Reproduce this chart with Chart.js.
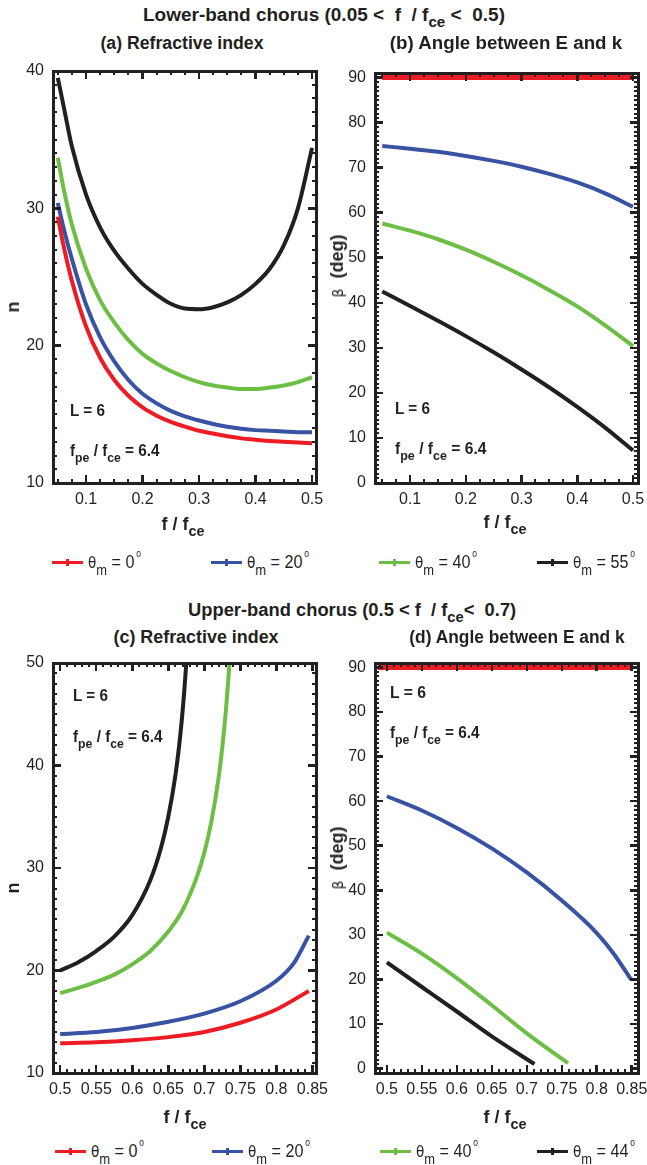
<!DOCTYPE html>
<html>
<head>
<meta charset="utf-8">
<script src="https://cdn.jsdelivr.net/npm/chart.js@4.4.1/dist/chart.umd.min.js"></script>
<style>
  body { margin: 0; background: #fff; }
  #fig { position: relative; width: 647px; height: 1165px; overflow: hidden;
         font-family: 'Liberation Sans', Arial, sans-serif; color: #231f20; }
  canvas { position: absolute; }
  .mk { position: absolute; background: #231f20; }
  .box { position: absolute; border: 3px solid #231f20; box-sizing: border-box; }
  .t { position: absolute; white-space: nowrap; line-height: 1; }
  .c { transform: translate(-50%, -50%); }
  .l { transform: translateY(-50%); transform-origin: left center; }
  .b { font-weight: bold; }
  .big { font-size: 18px; }
  .ann { font-size: 17px; font-weight: bold; }
  sub { font-size: 0.8em; position: relative; top: 0.45em; vertical-align: baseline; }
  .rot { transform: translate(-50%, -50%) rotate(-90deg); }
  .sym { font-family: 'DejaVu Sans', sans-serif; font-weight: normal; font-size: 14px; }
  .leg { position: absolute; display: flex; align-items: center; transform: translateY(-50%); font-size: 19px; }
  .leg .lt { display: inline-block; transform: scaleX(0.85); transform-origin: left center; }
  .leg .sym { font-size: 16px; }
  .sw { position: relative; display: inline-block; width: 31px; height: 3px; margin-right: 5px; }
  .sw::after { content: ''; position: absolute; left: 14px; top: -2px; width: 3px; height: 7px; background: inherit; }
  .deg { font-size: 10px; position: relative; top: -1.1em; margin-left: 2px; }
</style>
</head>
<body>
<div id="fig">
  <canvas id="chA" width="330" height="480" style="left:0;top:60px"></canvas>
  <canvas id="chB" width="327" height="480" style="left:320px;top:60px"></canvas>
  <canvas id="chC" width="330" height="480" style="left:0;top:650px"></canvas>
  <canvas id="chD" width="327" height="480" style="left:320px;top:650px"></canvas>

  <div class="t b big l" data-w="362" style="left:143px;top:15px">Lower-band chorus (0.05 &lt;&nbsp; f &nbsp;/ f<sub>ce</sub> &lt;&nbsp; 0.5)</div>
  <div class="t b big c" data-w="163" style="left:182px;top:43px">(a) Refractive index</div>
  <div class="t b big c" data-w="232" style="left:506px;top:43px">(b) Angle between E and k</div>

  <div class="t b big l" data-w="328" style="left:188px;top:610px">Upper-band chorus (0.5 &lt; f &nbsp;/ f<sub>ce</sub>&lt;&nbsp; 0.7)</div>
  <div class="t b big c" data-w="165" style="left:196px;top:637px">(c) Refractive index</div>
  <div class="t b big c" data-w="215" style="left:517px;top:637px">(d) Angle between E and k</div>

  <!-- axis titles -->
  <div class="t b big rot" style="left:13px;top:307px">n</div>
  <div class="t b big rot" style="left:13px;top:888px">n</div>
  <div class="t b big rot" style="left:337px;top:266px"><span class="sym">β</span>&nbsp; (deg)</div>
  <div class="t b big rot" style="left:337px;top:858px"><span class="sym">β</span>&nbsp; (deg)</div>
  <div class="t b big c" style="left:183px;top:524px">f / f<sub>ce</sub></div>
  <div class="t b big c" style="left:505px;top:522px">f / f<sub>ce</sub></div>
  <div class="t b big c" style="left:185px;top:1117px">f / f<sub>ce</sub></div>
  <div class="t b big c" style="left:505px;top:1117px">f / f<sub>ce</sub></div>

  <!-- plasma parameters -->
  <div class="t ann l" data-w="35" style="left:70px;top:410px">L = 6</div>
  <div class="t ann l" data-w="90" style="left:70px;top:450px">f<sub>pe</sub> / f<sub>ce</sub> = 6.4</div>
  <div class="t ann l" data-w="35" style="left:395px;top:408px">L = 6</div>
  <div class="t ann l" data-w="92" style="left:395px;top:448px">f<sub>pe</sub> / f<sub>ce</sub> = 6.4</div>
  <div class="t ann l" data-w="35" style="left:73px;top:695px">L = 6</div>
  <div class="t ann l" data-w="90" style="left:73px;top:736px">f<sub>pe</sub> / f<sub>ce</sub> = 6.4</div>
  <div class="t ann l" data-w="36" style="left:390px;top:692px">L = 6</div>
  <div class="t ann l" data-w="90" style="left:390px;top:732px">f<sub>pe</sub> / f<sub>ce</sub> = 6.4</div>

  <!-- legends -->
  <div class="leg" style="left:52px;top:562px"><span class="sw" style="background:#ed1c24"></span><span class="lt"><span class="sym">θ</span><sub>m</sub>&nbsp;= 0<span class="deg">o</span></span></div>
  <div class="leg" style="left:211px;top:562px"><span class="sw" style="background:#3953a4"></span><span class="lt"><span class="sym">θ</span><sub>m</sub>&nbsp;= 20<span class="deg">o</span></span></div>
  <div class="leg" style="left:379px;top:562px"><span class="sw" style="background:#6cbe45"></span><span class="lt"><span class="sym">θ</span><sub>m</sub>&nbsp;= 40<span class="deg">o</span></span></div>
  <div class="leg" style="left:537px;top:562px"><span class="sw" style="background:#231f20"></span><span class="lt"><span class="sym">θ</span><sub>m</sub>&nbsp;= 55<span class="deg">o</span></span></div>

  <div class="leg" style="left:55px;top:1151px"><span class="sw" style="background:#ed1c24"></span><span class="lt"><span class="sym">θ</span><sub>m</sub>&nbsp;= 0<span class="deg">o</span></span></div>
  <div class="leg" style="left:212px;top:1151px"><span class="sw" style="background:#3953a4"></span><span class="lt"><span class="sym">θ</span><sub>m</sub>&nbsp;= 20<span class="deg">o</span></span></div>
  <div class="leg" style="left:380px;top:1151px"><span class="sw" style="background:#6cbe45"></span><span class="lt"><span class="sym">θ</span><sub>m</sub>&nbsp;= 40<span class="deg">o</span></span></div>
  <div class="leg" style="left:537px;top:1151px"><span class="sw" style="background:#231f20"></span><span class="lt"><span class="sym">θ</span><sub>m</sub>&nbsp;= 44<span class="deg">o</span></span></div>
</div>

<script>
// ---- lower-band chorus: refractive index (a)
const freqA = [0.05, 0.06, 0.075, 0.1, 0.125, 0.15, 0.175, 0.2, 0.225, 0.25, 0.275, 0.3, 0.325, 0.35, 0.375, 0.4, 0.425, 0.45, 0.475, 0.5];
const nA0  = [29.4, 27.3, 24.7, 21.4, 19.1, 17.5, 16.35, 15.5, 14.9, 14.45, 14.1, 13.8, 13.6, 13.4, 13.25, 13.15, 13.05, 13.0, 12.95, 12.9];
const nA20 = [30.4, 28.6, 26.3, 23.0, 20.6, 18.85, 17.5, 16.5, 15.8, 15.25, 14.85, 14.55, 14.3, 14.1, 13.95, 13.85, 13.8, 13.75, 13.7, 13.7];
const nA40 = [33.7, 31.5, 28.8, 25.6, 23.3, 21.7, 20.4, 19.4, 18.7, 18.15, 17.7, 17.35, 17.1, 16.95, 16.85, 16.85, 16.95, 17.1, 17.35, 17.7];
const nA55 = [39.5, 37.5, 34.5, 31.0, 28.6, 26.9, 25.6, 24.5, 23.7, 23.05, 22.7, 22.65, 22.8, 23.15, 23.7, 24.5, 25.6, 27.3, 30.0, 34.4];

// ---- lower-band chorus: angle between E and k (b)
const freqB = [0.05, 0.1, 0.15, 0.2, 0.25, 0.3, 0.35, 0.4, 0.45, 0.5];
const betaB0  = [90, 90, 90, 90, 90, 90, 90, 90, 90, 90];
const betaB20 = [74.8, 74.2, 73.5, 72.6, 71.5, 70.2, 68.6, 66.7, 64.3, 61.3];
const betaB40 = [57.6, 56.0, 54.1, 51.8, 49.1, 46.1, 42.8, 39.2, 35.0, 30.4];
const betaB55 = [42.5, 39.3, 36.0, 32.6, 29.0, 25.2, 21.2, 16.9, 12.3, 7.2];

// ---- upper-band chorus: refractive index (c)
const freqC0  = [0.5, 0.55, 0.6, 0.65, 0.7, 0.75, 0.8, 0.845];
const nC0     = [12.9, 13.0, 13.2, 13.5, 14.0, 14.9, 16.2, 18.0];
const freqC20 = [0.5, 0.55, 0.6, 0.65, 0.7, 0.75, 0.8, 0.825, 0.845];
const nC20    = [13.8, 14.0, 14.4, 15.0, 15.8, 17.0, 19.0, 20.8, 23.4];
const freqC40 = [0.5, 0.525, 0.55, 0.575, 0.6, 0.625, 0.65, 0.67, 0.69, 0.7, 0.71, 0.72, 0.725, 0.73, 0.735];
const nC40    = [17.8, 18.3, 18.9, 19.6, 20.6, 21.9, 23.8, 25.9, 29.2, 31.5, 34.6, 38.9, 41.8, 45.4, 50.0];
const freqC44 = [0.5, 0.525, 0.55, 0.575, 0.6, 0.625, 0.64, 0.65, 0.66, 0.667, 0.672, 0.675];
const nC44    = [20.0, 20.8, 21.9, 23.3, 25.4, 28.8, 32.0, 35.0, 39.1, 43.2, 47.1, 50.0];

// ---- upper-band chorus: angle between E and k (d)
const freqD0  = [0.487, 0.85];
const betaD0  = [90, 90];
const freqD20 = [0.5, 0.55, 0.6, 0.65, 0.7, 0.75, 0.8, 0.825, 0.849];
const betaD20 = [61.1, 57.9, 54.0, 49.4, 44.0, 37.7, 30.4, 25.6, 20.0];
const freqD40 = [0.5, 0.55, 0.6, 0.65, 0.7, 0.759];
const betaD40 = [30.5, 25.8, 20.3, 14.2, 7.9, 1.2];
const freqD44 = [0.5, 0.55, 0.6, 0.65, 0.711];
const betaD44 = [23.8, 18.3, 12.8, 7.2, 1.0];

// tick labels
const ticksLowX  = [0.1, 0.2, 0.3, 0.4, 0.5];
const ticksHighX = [0.5, 0.55, 0.6, 0.65, 0.7, 0.75, 0.8, 0.85];
const ticksNA    = [10, 20, 30, 40];
const ticksNC    = [10, 20, 30, 40, 50];
const ticksBeta  = [0, 10, 20, 30, 40, 50, 60, 70, 80, 90];

const RED = '#ed1c24', BLUE = '#3953a4', GREEN = '#6cbe45', BLACK = '#231f20';
const tickFont = { family: "'Liberation Sans', Arial, sans-serif", size: 16 };

function line(xs, ys, color, w) {
  return {
    data: xs.map((x, i) => ({ x: x, y: ys[i] })),
    borderColor: color, backgroundColor: color,
    borderWidth: w || 4, pointRadius: 0, fill: false,
    cubicInterpolationMode: 'monotone'
  };
}

// boxed frame with inward major/minor ticks, placed from the chart's own scales
function drawFrame(chart, xMinor, yMinor) {
  const fig = document.getElementById('fig');
  const cv = chart.canvas, ox = cv.offsetLeft, oy = cv.offsetTop;
  const a = chart.chartArea, xs = chart.scales.x, ys = chart.scales.y;

  const mark = (l, t, w, h) => {
    const d = document.createElement('div');
    d.className = 'mk';
    d.style.left = l + 'px'; d.style.top = t + 'px';
    d.style.width = w + 'px'; d.style.height = h + 'px';
    fig.appendChild(d);
  };
  const vt = (px, len, w) => {
    mark(ox + px - w / 2, oy + a.bottom - len, w, len);
    mark(ox + px - w / 2, oy + a.top, w, len);
  };
  const ht = (py, len, w) => {
    mark(ox + a.left, oy + py - w / 2, len, w);
    mark(ox + a.right - len, oy + py - w / 2, len, w);
  };
  const each = (scale, step, fn) => {
    const k0 = Math.ceil(scale.min / step - 1e-9), k1 = Math.floor(scale.max / step + 1e-9);
    for (let k = k0; k <= k1; k++) fn(scale.getPixelForValue(k * step));
  };

  each(xs, xMinor, px => vt(px, 4, 2));
  each(ys, yMinor, py => ht(py, 4, 2));
  xs.ticks.forEach(t => vt(xs.getPixelForValue(t.value), 8, 2.5));
  ys.ticks.forEach(t => ht(ys.getPixelForValue(t.value), 8, 2.5));

  const box = document.createElement('div');
  box.className = 'box';
  box.style.left = (ox + a.left - 1.5) + 'px';
  box.style.top = (oy + a.top - 1.5) + 'px';
  box.style.width = (a.right - a.left + 3) + 'px';
  box.style.height = (a.bottom - a.top + 3) + 'px';
  fig.appendChild(box);
}

function makeChart(id, datasets, cfg) {
  const chart = new Chart(document.getElementById(id), {
    type: 'line',
    data: { datasets: datasets },
    options: {
      responsive: false, animation: false, devicePixelRatio: 1,
      layout: { padding: { top: cfg.padTop, right: cfg.padRight, left: 0, bottom: 0 } },
      plugins: { legend: { display: false }, tooltip: { enabled: false } },
      scales: {
        x: {
          type: 'linear', min: cfg.xMin, max: cfg.xMax,
          afterBuildTicks: s => { s.ticks = cfg.xTicks.map(v => ({ value: v })); },
          afterFit: s => { s.height = 57; s.paddingLeft = 0; s.paddingRight = 0; },
          grid: { display: false, drawTicks: false },
          border: { display: false },
          ticks: { font: tickFont, color: BLACK, padding: 7, maxRotation: 0, autoSkip: false,
                   callback: v => String(+v.toFixed(2)) }
        },
        y: {
          type: 'linear', min: cfg.yMin, max: cfg.yMax,
          afterBuildTicks: s => { s.ticks = cfg.yTicks.map(v => ({ value: v })); },
          afterFit: s => { s.width = cfg.yWidth; s.paddingTop = 0; s.paddingBottom = 0; },
          grid: { display: false, drawTicks: false },
          border: { display: false },
          ticks: { font: tickFont, color: BLACK, padding: 9, callback: v => String(v) }
        }
      }
    }
  });
  drawFrame(chart, cfg.xMinor, cfg.yMinor);
  return chart;
}

makeChart('chA', [line(freqA, nA0, RED), line(freqA, nA20, BLUE), line(freqA, nA40, GREEN), line(freqA, nA55, BLACK)],
  { xMin: 0.0415, xMax: 0.507, yMin: 10, yMax: 40, xTicks: ticksLowX, yTicks: ticksNA,
    xMinor: 0.025, yMinor: 1, yWidth: 53, padTop: 11, padRight: 14 });

makeChart('chB', [line(freqB, betaB0, RED, 5), line(freqB, betaB20, BLUE), line(freqB, betaB40, GREEN), line(freqB, betaB55, BLACK)],
  { xMin: 0.037, xMax: 0.509, yMin: 0, yMax: 91, xTicks: ticksLowX, yTicks: ticksBeta,
    xMinor: 0.025, yMinor: 1, yWidth: 55, padTop: 13, padRight: 9 });

makeChart('chC', [line(freqC0, nC0, RED), line(freqC20, nC20, BLUE), line(freqC40, nC40, GREEN), line(freqC44, nC44, BLACK)],
  { xMin: 0.49, xMax: 0.855, yMin: 10, yMax: 50, xTicks: ticksHighX, yTicks: ticksNC,
    xMinor: 0.01, yMinor: 1, yWidth: 53, padTop: 13, padRight: 14 });

makeChart('chD', [line(freqD0, betaD0, RED, 5), line(freqD20, betaD20, BLUE), line(freqD40, betaD40, GREEN), line(freqD44, betaD44, BLACK)],
  { xMin: 0.483, xMax: 0.859, yMin: -1, yMax: 91, xTicks: ticksHighX, yTicks: ticksBeta,
    xMinor: 0.01, yMinor: 1, yWidth: 55, padTop: 13, padRight: 9 });

// squeeze headings and labels to their set widths (condensed lettering)
document.querySelectorAll('[data-w]').forEach(el => {
  const s = (+el.dataset.w) / el.offsetWidth;
  el.style.transform = (el.classList.contains('c') ? 'translate(-50%, -50%)' : 'translateY(-50%)') + ' scaleX(' + s.toFixed(3) + ')';
});
</script>
</body>
</html>
